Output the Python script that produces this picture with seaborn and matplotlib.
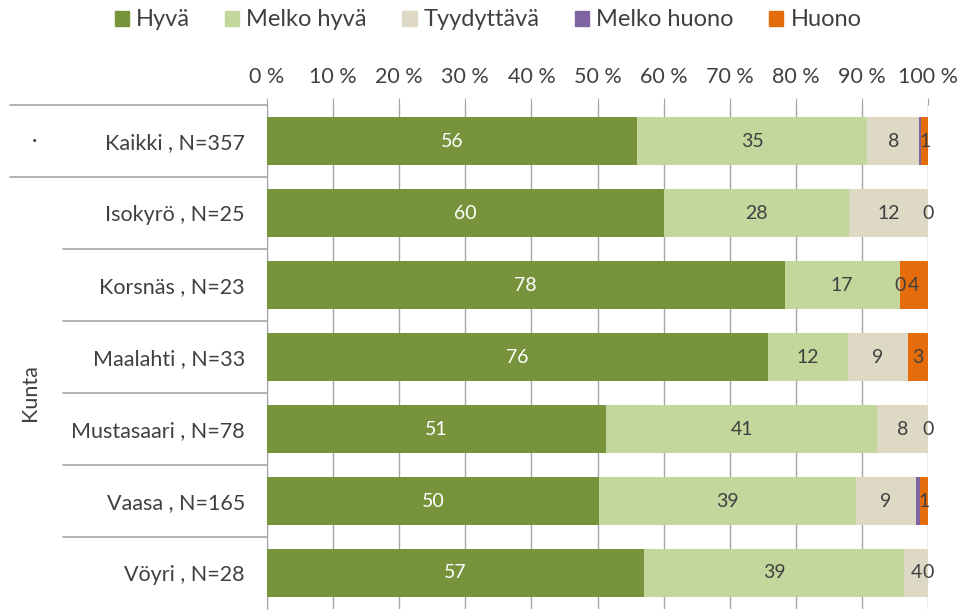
import matplotlib
matplotlib.use("Agg")
import matplotlib.pyplot as plt
import matplotlib.transforms as mtransforms
import seaborn as sns
import numpy as np
import pandas as pd

# data (percent of respondents per kunta)
categories = ['Kaikki , N=357', 'Isokyrö , N=25', 'Korsnäs , N=23', 'Maalahti , N=33',
              'Mustasaari , N=78', 'Vaasa , N=165', 'Vöyri , N=28']
series_names = ['Hyvä', 'Melko hyvä', 'Tyydyttävä', 'Melko huono', 'Huono']
hyva = [56.0, 60.0, 78.3, 75.8, 51.3, 50.3, 57.1]
melko_hyva = [34.8, 28.0, 17.4, 12.1, 41.0, 38.8, 39.3]
tyydyttava = [7.9, 12.0, 0.0, 9.1, 7.7, 9.1, 3.6]
melko_huono = [0.3, 0.0, 0.0, 0.0, 0.0, 0.6, 0.0]
huono = [1.0, 0.0, 4.3, 3.0, 0.0, 1.2, 0.0]
# zero values that still get a data label in the original
zero_labels = [('Huono', 1), ('Melko huono', 2), ('Huono', 4), ('Huono', 6)]
x_ticks = [0, 10, 20, 30, 40, 50, 60, 70, 80, 90, 100]
x_tick_labels = ['0 %', '10 %', '20 %', '30 %', '40 %', '50 %', '60 %', '70 %', '80 %', '90 %', '100 %']

colors = ['#77933C', '#C3D69B', '#DDD9C4', '#8064A2', '#E46C0A']
text_col = '#404040'
grid_col = '#A6A6A6'

sns.set_style('white')
plt.rcParams['font.family'] = ['Lato', 'DejaVu Sans']

df = pd.DataFrame({'Kunta': categories, 'Hyvä': hyva, 'Melko hyvä': melko_hyva,
                   'Tyydyttävä': tyydyttava, 'Melko huono': melko_huono, 'Huono': huono})
cum = df[series_names].cumsum(axis=1)

fig = plt.figure(figsize=(9.59, 6.12), dpi=100)
ax = fig.add_axes([267 / 959, 3 / 612, 661 / 959, 504 / 612])

# stacked bars: draw cumulative totals back to front
for name, col in reversed(list(zip(series_names, colors))):
    sns.barplot(x=cum[name], y=df['Kunta'], orient='h', color=col, width=0.67,
                linewidth=0, saturation=1, ax=ax, zorder=3)

# data labels
for i, name in enumerate(series_names):
    start = cum[name] - df[name]
    for j in range(len(categories)):
        v = df[name][j]
        if v < 1 and (name, j) not in zero_labels:
            continue
        xc = start[j] + v / 2
        ax.text(xc, j, f'{v:.0f}', ha='center', va='center', fontsize=14,
                color='white' if i == 0 else text_col, zorder=5)

ax.set_xlim(0, 100)
ax.set_ylim(6.5, -0.5)
ax.xaxis.tick_top()
ax.set_xticks(x_ticks)
ax.set_xticklabels(x_tick_labels, fontsize=15.5, color=text_col)
ax.tick_params(axis='x', length=5, color=grid_col, pad=8)
ax.tick_params(axis='y', length=0, pad=16, labelsize=15.5, labelcolor=text_col)
ax.xaxis.grid(True, color=grid_col, linewidth=1, zorder=0)
ax.set_axisbelow(True)
ax.set_xlabel('')
ax.set_ylabel('')
for s in ['top', 'right', 'bottom']:
    ax.spines[s].set_visible(False)
ax.spines['left'].set_color(grid_col)

# multi-level category axis separators
trans = mtransforms.blended_transform_factory(fig.transFigure, ax.transData)
for yb in [-0.5, 0.5, 1.5, 2.5, 3.5, 4.5, 5.5]:
    x0 = 10 / 959 if yb < 1 else 63 / 959
    ax.plot([x0, 267 / 959], [yb, yb], color=grid_col, linewidth=1.2,
            transform=trans, clip_on=False)
fig.text(35 / 959, 0, '·', transform=trans, ha='center', va='center', fontsize=15, color=text_col)
fig.text(30 / 959, 3.5, 'Kunta', transform=trans, ha='center', va='center',
         rotation=90, fontsize=15.5, color=text_col)

handles = [plt.Rectangle((0, 0), 1, 1, color=c) for c in colors]
fig.legend(handles, series_names, loc='center', bbox_to_anchor=(488 / 959, 1 - 20 / 612),
           ncol=5, frameon=False, fontsize=17, handlelength=0.6, handleheight=0.6,
           handletextpad=0.3, columnspacing=1.5, labelcolor=text_col)

fig.savefig('out.png', dpi=100)
